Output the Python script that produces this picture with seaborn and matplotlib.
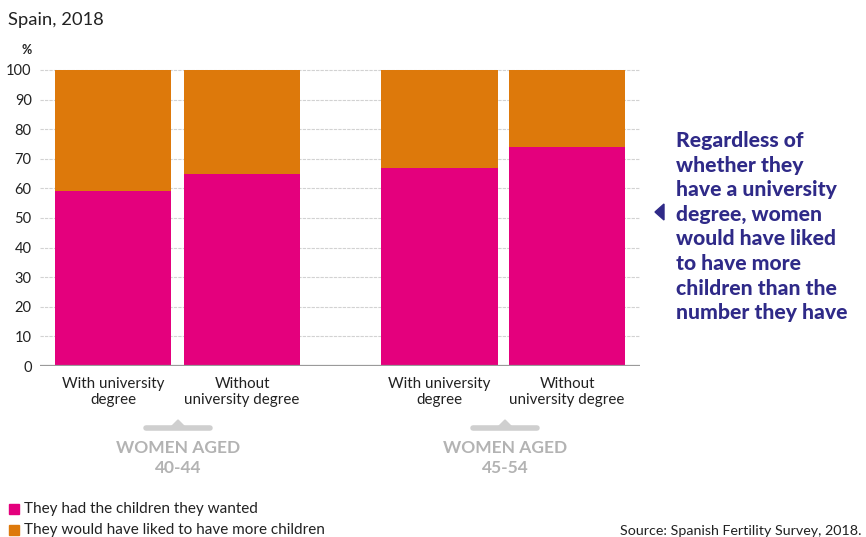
import matplotlib
matplotlib.use("Agg")
import matplotlib.pyplot as plt
import seaborn as sns
import pandas as pd
from matplotlib.patches import Rectangle, Polygon
from matplotlib.lines import Line2D

# Data: share of women (%) by fertility outcome, Spain 2018
categories = ["With university\ndegree", "Without\nuniversity degree",
              "With university\ndegree", "Without\nuniversity degree"]
groups = ["WOMEN AGED\n40-44", "WOMEN AGED\n45-54"]
had_wanted = [59, 65, 67, 74]
wanted_more = [41, 35, 33, 26]
series_names = ["They had the children they wanted",
                "They would have liked to have more children"]
y_ticks = list(range(0, 101, 10))

# Layout: bar slots on the x axis (gap between age groups)
x_pos = [0.0, 1.0, 2.53, 3.52]

PINK = "#e4007d"
ORANGE = "#dd790b"
NAVY = "#2f2a88"
GREY_TXT = "#b3b3b3"

sns.set_style("white")
plt.rcParams["font.family"] = ["Lato", "DejaVu Sans"]

W, H = 866, 537
fig = plt.figure(figsize=(W / 100, H / 100), dpi=100)


def fx(px):
    return px / W


def fy(py):
    return 1 - py / H


ax = fig.add_axes([fx(40), fy(366), fx(640) - fx(40), fy(67) - fy(366)])

df = pd.DataFrame({
    "pos": x_pos,
    "had": had_wanted,
    "total": [a + b for a, b in zip(had_wanted, wanted_more)],
})

sns.barplot(data=df, x="pos", y="total", native_scale=True, width=0.91,
            color=ORANGE, saturation=1, linewidth=0, ax=ax, zorder=3)
sns.barplot(data=df, x="pos", y="had", native_scale=True, width=0.91,
            color=PINK, saturation=1, linewidth=0, ax=ax, zorder=4)

ax.set_xlim(-0.566, 4.085)
ax.set_ylim(0, 101)
ax.set_xlabel("")
ax.set_ylabel("")
for s in ax.spines.values():
    s.set_visible(False)

ax.set_yticks(y_ticks)
ax.set_yticklabels([str(t) for t in y_ticks], fontsize=10.5, color="#222222")
ax.tick_params(axis="y", length=0, pad=6)
ax.set_xticks(x_pos)
ax.set_xticklabels(categories, fontsize=10.9, color="#222222", linespacing=1.2)
ax.tick_params(axis="x", length=0, pad=8)

for t in y_ticks[1:]:
    ax.axhline(t, color="#d2d2d2", lw=0.8, ls=(0, (3, 1)), zorder=1)
ax.axhline(0, color="#9a9a9a", lw=1.6, zorder=5)

# Titles and side note
fig.text(fx(8), fy(20), "Spain, 2018", fontsize=13.2, color="#222222",
         va="center", ha="left")
fig.text(fx(27), fy(50), "%", fontsize=9, color="#222222",
         va="center", ha="center", fontweight="bold")

note = ("Regardless of\nwhether they\nhave a university\ndegree, women\n"
        "would have liked\nto have more\nchildren than the\nnumber they have")
fig.text(fx(676), fy(131), note, fontsize=15.2, color=NAVY, fontweight="black",
         va="top", ha="left", linespacing=1.35)
fig.patches.append(Polygon([[fx(655), fy(212)], [fx(664), fy(204)], [fx(664), fy(220)]],
                           closed=True, transform=fig.transFigure,
                           color=NAVY, zorder=10))

# Age-group brackets below the category labels
for cx, label in zip([178, 505], groups):
    fig.lines.append(Line2D([fx(cx - 32), fx(cx + 32)], [fy(428), fy(428)],
                            transform=fig.transFigure, color="#cfcfcf", lw=4))
    fig.patches.append(Polygon([[fx(cx - 7), fy(427)], [fx(cx + 7), fy(427)], [fx(cx), fy(420)]],
                               closed=True, transform=fig.transFigure, color="#cfcfcf"))
    fig.text(fx(cx), fy(458), label, fontsize=12.5, color=GREY_TXT,
             fontweight="bold", ha="center", va="center", linespacing=1.35)

# Legend
for py, col, name in zip([509, 530], [PINK, ORANGE], series_names):
    fig.patches.append(Rectangle((fx(9), fy(py + 5)), fx(10), fy(py - 5) - fy(py + 5),
                                 transform=fig.transFigure, color=col))
    fig.text(fx(24), fy(py), name, fontsize=11, color="#222222",
             va="center", ha="left")

fig.text(fx(861), fy(531), "Source: Spanish Fertility Survey, 2018.", fontsize=10.3,
         color="#222222", va="center", ha="right")

fig.savefig("out.png", dpi=100)
